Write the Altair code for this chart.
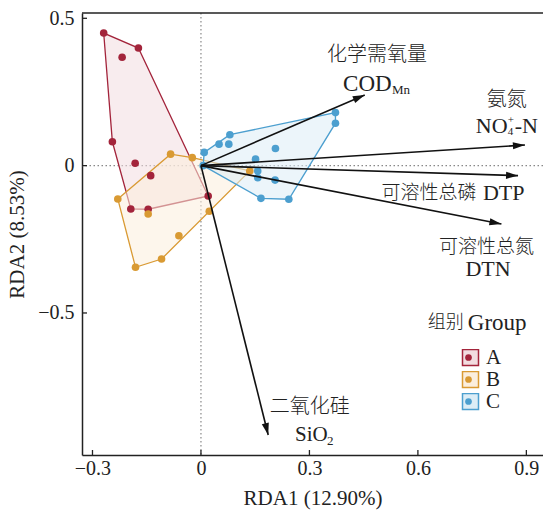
import math
import altair as alt
import pandas as pd

# ---------------- data ----------------
groups = ["A", "B", "C"]
colors = ["#a3243b", "#d99a33", "#4c9fcf"]
tints = ["#f2dce0", "#fbeedd", "#dcedf6"]

A_x = [-0.269, -0.173, -0.218, -0.245, -0.182, -0.139, -0.194, -0.146, 0.020]
A_y = [0.450, 0.399, 0.368, 0.081, 0.008, -0.034, -0.147, -0.148, -0.103]
B_x = [-0.084, -0.024, 0.135, 0.023, -0.061, -0.109, -0.181, -0.230, -0.146]
B_y = [0.039, 0.027, -0.018, -0.155, -0.238, -0.317, -0.345, -0.113, -0.164]
C_x = [0.006, 0.009, 0.050, 0.080, 0.077, 0.206, 0.151, 0.157, 0.157, 0.205, 0.166, 0.243, 0.372, 0.372]
C_y = [0.000, 0.045, 0.073, 0.105, 0.073, 0.058, 0.022, -0.018, -0.041, -0.049, -0.111, -0.114, 0.180, 0.144]

env_names = ["COD", "NH4", "DTP", "DTN", "SiO2"]
env_x = [0.453, 0.896, 0.877, 0.831, 0.186]
env_y = [0.240, 0.070, -0.034, -0.198, -0.914]

x_ticks = [-0.3, 0, 0.3, 0.6, 0.9]
y_ticks = [-0.5, 0, 0.5]

# ---------------- layout ----------------
W, H = 461, 442
XMIN, XMAX = -0.329, 0.946
YMIN, YMAX = -0.982, 0.518
SX = W / (XMAX - XMIN)
SY = H / (YMAX - YMIN)

SERIF = "Liberation Serif"
CJK = "Noto Sans CJK SC"
TXT = "#222222"

xs = alt.Scale(domain=[XMIN, XMAX], nice=False, zero=False)
ys = alt.Scale(domain=[YMIN, YMAX], nice=False, zero=False)


def hull(px, py):
    pts = sorted(zip(px, py))
    def cross(o, a, b):
        return (a[0] - o[0]) * (b[1] - o[1]) - (a[1] - o[1]) * (b[0] - o[0])
    lower, upper = [], []
    for p in pts:
        while len(lower) >= 2 and cross(lower[-2], lower[-1], p) <= 0:
            lower.pop()
        lower.append(p)
    for p in reversed(pts):
        while len(upper) >= 2 and cross(upper[-2], upper[-1], p) <= 0:
            upper.pop()
        upper.append(p)
    return lower[:-1] + upper[:-1]


pts_rows, hull_rows = [], []
for g, gx, gy in zip(groups, [A_x, B_x, C_x], [A_y, B_y, C_y]):
    for a, b in zip(gx, gy):
        pts_rows.append({"Group": g, "x": a, "y": b})
    for i, (a, b) in enumerate(hull(gx, gy)):
        hull_rows.append({"G": g, "x": a, "y": b, "idx": i})
pts_df = pd.DataFrame(pts_rows)
hull_df = pd.DataFrame(hull_rows)

arr_df = pd.DataFrame({
    "name": env_names,
    "x0": [0.0] * len(env_x),
    "y0": [0.0] * len(env_y),
    "x": env_x,
    "y": env_y,
})
arr_df["angle"] = [
    (math.degrees(math.atan2(a * SX, b * SY)) + 360) % 360 for a, b in zip(env_x, env_y)
]

leg_common = dict(
    orient="none", legendX=378, legendY=336, title=None, direction="vertical",
    rowPadding=0, clipHeight=17, labelFont=SERIF, labelFontSize=21,
    labelOffset=5, labelColor=TXT, labelBaseline="middle",
)

hulls = alt.Chart(hull_df).mark_line(
    interpolate="linear-closed", strokeWidth=1.3, fillOpacity=0.55
).encode(
    x=alt.X("x:Q", scale=xs),
    y=alt.Y("y:Q", scale=ys),
    order=alt.Order("idx:Q"),
    fill=alt.Fill("G:N", scale=alt.Scale(domain=groups, range=tints),
                  legend=alt.Legend(symbolType="square", symbolSize=256,
                                    symbolStrokeWidth=1.5, **leg_common)),
    stroke=alt.Stroke("G:N", scale=alt.Scale(domain=groups, range=colors),
                      legend=alt.Legend(symbolType="square", symbolSize=256,
                                        symbolStrokeWidth=1.5, **leg_common)),
)

circ_leg = {**leg_common, "labelExpr": "''", "labelOffset": 0}
points = alt.Chart(pts_df).mark_circle(size=58, opacity=1).encode(
    x=alt.X("x:Q", scale=xs),
    y=alt.Y("y:Q", scale=ys),
    color=alt.Color("Group:N", scale=alt.Scale(domain=groups, range=colors),
                    legend=alt.Legend(symbolType="circle", symbolSize=45,
                                      symbolOffset=-2, symbolOpacity=1, **circ_leg)),
)

zero_h = alt.Chart(pd.DataFrame({"v": [0]})).mark_rule(
    color="#888888", strokeDash=[1.5, 2.5], strokeWidth=1.2
).encode(y=alt.Y("v:Q", scale=ys))
zero_v = alt.Chart(pd.DataFrame({"v": [0]})).mark_rule(
    color="#888888", strokeDash=[1.5, 2.5], strokeWidth=1.2
).encode(x=alt.X("v:Q", scale=xs))

top_line = alt.Chart(pd.DataFrame({"v": [YMAX]})).mark_rule(
    color=TXT, strokeWidth=1.5
).encode(y=alt.Y("v:Q", scale=ys))

xt_df = pd.DataFrame({"t": x_ticks, "a": [YMIN] * len(x_ticks), "b": [YMIN + 5 / SY] * len(x_ticks)})
yt_df = pd.DataFrame({"t": y_ticks, "a": [XMIN] * len(y_ticks), "b": [XMIN + 5 / SX] * len(y_ticks)})
xticks = alt.Chart(xt_df).mark_rule(color=TXT, strokeWidth=1.3).encode(
    x=alt.X("t:Q", scale=xs), y=alt.Y("a:Q", scale=ys), y2="b:Q")
yticks = alt.Chart(yt_df).mark_rule(color=TXT, strokeWidth=1.3).encode(
    y=alt.Y("t:Q", scale=ys), x=alt.X("a:Q", scale=xs), x2="b:Q")

shafts = alt.Chart(arr_df).mark_rule(color="#111111", strokeWidth=1.6).encode(
    x=alt.X("x0:Q", scale=xs), y=alt.Y("y0:Q", scale=ys), x2="x:Q", y2="y:Q")
heads = alt.Chart(arr_df).mark_point(
    shape="M0,0L-0.3,1L0.3,1Z", filled=True, color="#111111", opacity=1, size=576
).encode(
    x=alt.X("x:Q", scale=xs), y=alt.Y("y:Q", scale=ys),
    angle=alt.Angle("angle:Q", scale=None),
)


def label(text, x, y, font, size, align="center", dx=0, dy=0, weight="normal"):
    return alt.Chart(pd.DataFrame({"x": [x], "y": [y], "t": [text]})).mark_text(
        font=font, fontSize=size, align=align, baseline="middle", color=TXT,
        dx=dx, dy=dy, fontWeight=weight
    ).encode(x=alt.X("x:Q", scale=xs), y=alt.Y("y:Q", scale=ys), text="t:N")


LW = 300
labels = [
    label("化学需氧量", 0.487, 0.376, CJK, 20, weight=LW),
    label("COD", 0.393, 0.277, SERIF, 23, "left"),
    label("Mn", 0.393, 0.277, SERIF, 13, "left", dx=49, dy=6),
    label("氨氮", 0.846, 0.223, CJK, 20, weight=LW),
    label("NO", 0.760, 0.135, SERIF, 22, "left"),
    label("+", 0.760, 0.135, SERIF, 11, "left", dx=32, dy=-6),
    label("4", 0.760, 0.135, SERIF, 11, "left", dx=32, dy=6),
    label("-N", 0.760, 0.135, SERIF, 22, "left", dx=39),
    label("可溶性总磷", 0.631, -0.093, CJK, 19, weight=LW),
    label("DTP", 0.780, -0.093, SERIF, 22, "left"),
    label("可溶性总氮", 0.790, -0.276, CJK, 19, weight=LW),
    label("DTN", 0.794, -0.351, SERIF, 22),
    label("二氧化硅", 0.301, -0.819, CJK, 20, weight=LW),
    label("SiO", 0.260, -0.914, SERIF, 21, "left"),
    label("2", 0.260, -0.914, SERIF, 13, "left", dx=32, dy=6),
    label("组别", 0.677, -0.534, CJK, 18, weight=LW),
    label("Group", 0.738, -0.534, SERIF, 23, "left"),
]

axis_base = alt.Chart(pd.DataFrame({"x": [0.0], "y": [0.0]})).mark_point(opacity=0).encode(
    x=alt.X("x:Q", scale=xs, title="RDA1 (12.90%)",
            axis=alt.Axis(values=x_ticks, ticks=False, grid=False, domainColor=TXT,
                          domainWidth=1.5, labelFont=SERIF, labelFontSize=20,
                          labelColor=TXT, labelPadding=3, titleFont=SERIF,
                          titleFontSize=21, titleFontWeight="normal", titleColor=TXT,
                          titlePadding=9,
                          labelExpr="datum.value == 0 ? '0' : format(datum.value, '.1f')")),
    y=alt.Y("y:Q", scale=ys, title="RDA2 (8.53%)",
            axis=alt.Axis(values=y_ticks, ticks=False, grid=False, domainColor=TXT,
                          domainWidth=1.5, labelFont=SERIF, labelFontSize=20,
                          labelColor=TXT, labelPadding=8, titleFont=SERIF,
                          titleFontSize=21, titleFontWeight="normal", titleColor=TXT,
                          titlePadding=10,
                          labelExpr="datum.value == 0 ? '0' : format(datum.value, '.1f')")),
)

chart = alt.layer(
    axis_base, zero_h, zero_v, hulls, points, shafts, heads, top_line, xticks, yticks, *labels
).resolve_scale(color="independent", fill="independent", stroke="independent").properties(
    width=W, height=H,
    autosize=alt.AutoSizeParams(type="none"),
    padding={"left": 82, "top": 13, "right": 0, "bottom": 514 - 13 - H},
    background="white",
).configure_view(stroke=None)

chart.save("out.html", embed_options={"renderer": "svg", "actions": False})
